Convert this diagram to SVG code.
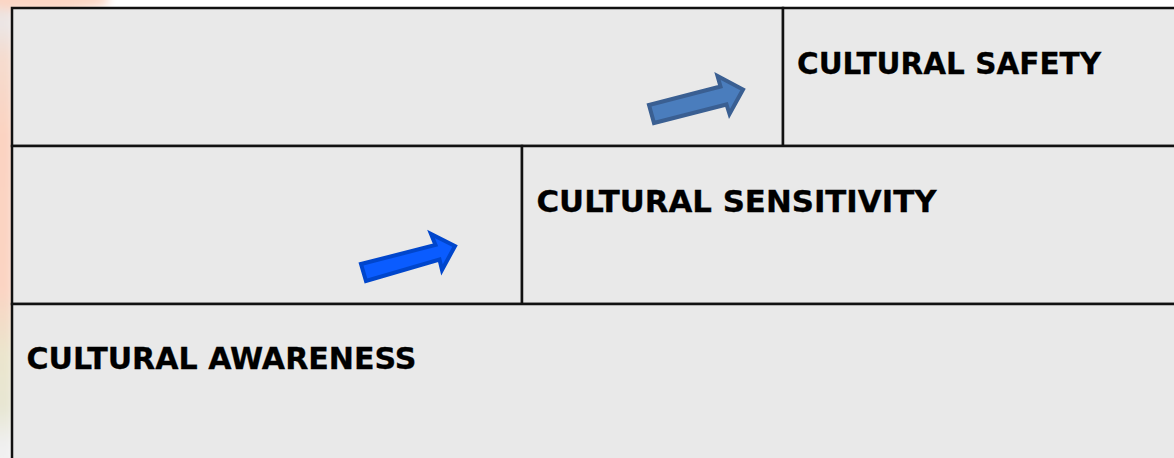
<svg xmlns="http://www.w3.org/2000/svg" width="1174" height="458" viewBox="0 0 1174 458">
  <defs>
    <linearGradient id="strip" x1="0" y1="0" x2="0" y2="1">
      <stop offset="0" stop-color="#f6dccf"/>
      <stop offset="0.07" stop-color="#ebe6e6"/>
      <stop offset="0.14" stop-color="#f5dccf"/>
      <stop offset="0.3" stop-color="#fbd3c1"/>
      <stop offset="0.62" stop-color="#fbd4c3"/>
      <stop offset="0.76" stop-color="#ebe5cd"/>
      <stop offset="0.87" stop-color="#e7e6d3"/>
      <stop offset="0.95" stop-color="#f0f0f0"/>
      <stop offset="1" stop-color="#f2f2f2"/>
    </linearGradient>
    <filter id="soft" x="-50%" y="-50%" width="200%" height="200%">
      <feGaussianBlur stdDeviation="4"/>
    </filter>
    <style>
      .cell { fill: #e9e9e9; stroke: #111111; stroke-width: 2.5; }
      .label { font-family: "DejaVu Sans", Verdana, sans-serif; font-weight: bold; font-size: 29.5px; fill: #000000; stroke: #000000; stroke-width: 0.3; }
      .arrow1 { fill: #4a7dbd; stroke: #3a5f92; stroke-width: 4; stroke-linejoin: miter; }
      .arrow2 { fill: #0a5cff; stroke: #0046cc; stroke-width: 4; stroke-linejoin: miter; }
    </style>
  </defs>

  <g id="background">
    <rect x="0" y="0" width="1174" height="458" fill="#ffffff"/>
    <g filter="url(#soft)">
      <rect x="-10" y="-10" width="24" height="480" fill="url(#strip)"/>
      <ellipse cx="45" cy="0" rx="65" ry="11" fill="#fbd6c4"/>
    </g>
  </g>

  <g id="cell-top-left">
    <rect class="cell" x="12" y="8" width="771" height="138"/>
  </g>
  <g id="node-cultural-safety">
    <rect class="cell" x="783" y="8" width="400" height="138"/>
    <text class="label" x="797" y="74" textLength="304" lengthAdjust="spacingAndGlyphs">CULTURAL SAFETY</text>
  </g>
  <g id="cell-middle-left">
    <rect class="cell" x="12" y="146" width="510" height="158"/>
  </g>
  <g id="node-cultural-sensitivity">
    <rect class="cell" x="522" y="146" width="661" height="158"/>
    <text class="label" x="536.5" y="212" textLength="400" lengthAdjust="spacingAndGlyphs">CULTURAL SENSITIVITY</text>
  </g>
  <g id="node-cultural-awareness">
    <rect class="cell" x="12" y="304" width="1171" height="170"/>
    <text class="label" x="26.5" y="369" textLength="390" lengthAdjust="spacingAndGlyphs">CULTURAL AWARENESS</text>
  </g>

  <g id="connectors">
    <polygon class="arrow2" points="361,264 435.5,245 431,234 455,246 442,270 439.5,259.5 366,281"/>
    <polygon class="arrow1" points="649,105 720.5,86.5 717.5,76 743,89.5 729.5,114 726.5,104.5 654,123"/>
  </g>
</svg>
